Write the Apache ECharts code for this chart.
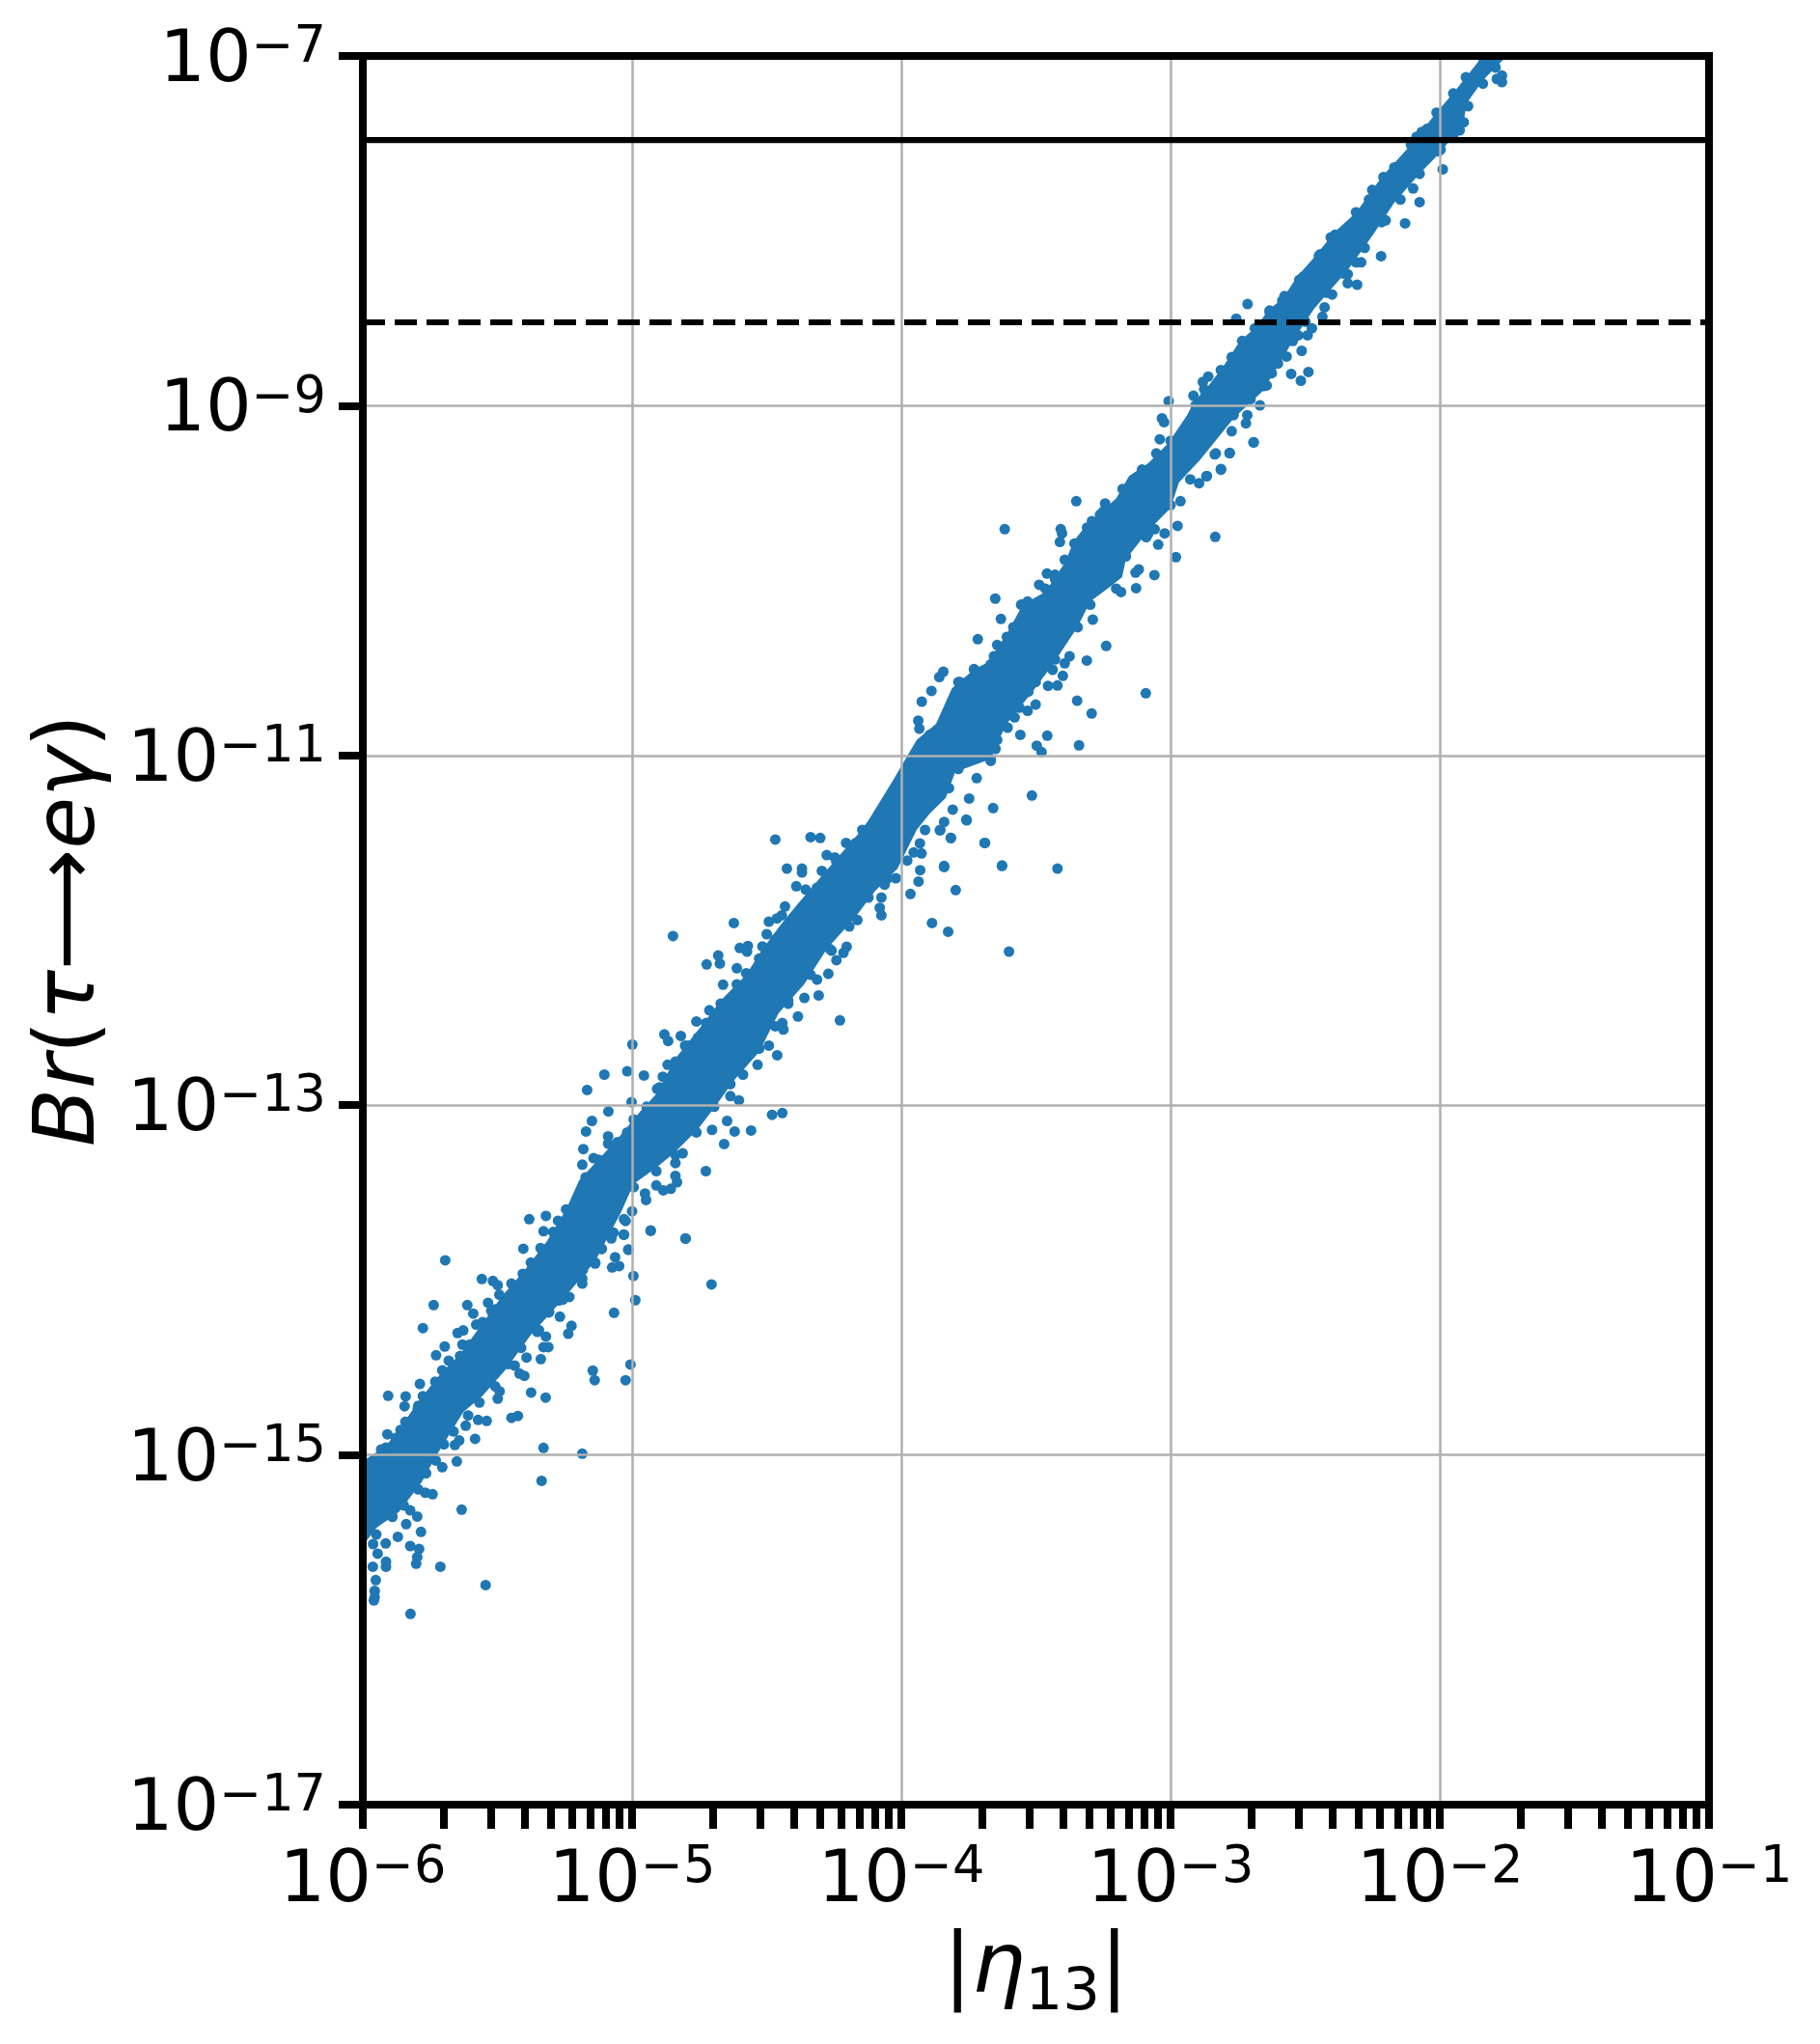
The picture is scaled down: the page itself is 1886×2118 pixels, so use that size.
<!DOCTYPE html>
<html><head><meta charset="utf-8">
<style>html,body{margin:0;padding:0;background:#fff}#c{width:1886px;height:2118px}</style>
<script src="https://cdn.jsdelivr.net/npm/echarts@6/dist/echarts.min.js"></script>
</head><body><div id="c"></div>
<script>
// All values are log10(|eta13|), log10(Br).
const xExponents=[-6,-5,-4,-3,-2,-1];
const yExponents=[-17,-15,-13,-11,-9,-7];
const xMinorMultipliers=[2,3,4,5,6,7,8,9];
const limitCurrent=3.3e-8;
const limitFuture=3e-9;
// Dense part of the cloud, where single points merge: its upper and lower outline.
const denseUpper=[[-6,-15.03],[-5.986,-15.022],[-5.914,-14.948],[-5.854,-14.829],[-5.788,-14.682],[-5.711,-14.535],[-5.639,-14.424],[-5.544,-14.222],[-5.484,-14.093],[-5.4,-13.946],[-5.317,-13.78],[-5.245,-13.596],[-5.197,-13.431],[-5.054,-13.192],[-4.97,-13.036],[-4.91,-12.935],[-4.839,-12.732],[-4.743,-12.548],[-4.671,-12.401],[-4.576,-12.254],[-4.516,-12.107],[-4.444,-11.96],[-4.385,-11.849],[-4.313,-11.72],[-4.241,-11.592],[-4.158,-11.445],[-4.122,-11.371],[-4.03,-11.14],[-3.943,-10.911],[-3.871,-10.819],[-3.812,-10.616],[-3.728,-10.506],[-3.68,-10.469],[-3.608,-10.304],[-3.549,-10.138],[-3.465,-10.064],[-3.393,-9.899],[-3.358,-9.77],[-3.31,-9.678],[-3.202,-9.531],[-3.154,-9.402],[-3.083,-9.329],[-3.011,-9.218],[-2.938,-9.053],[-2.914,-8.979],[-2.86,-8.888],[-2.805,-8.777],[-2.742,-8.63],[-2.687,-8.556],[-2.632,-8.446],[-2.585,-8.391],[-2.53,-8.262],[-2.467,-8.152],[-2.389,-8.005],[-2.31,-7.894],[-2.216,-7.692],[-2.107,-7.508],[-2.013,-7.324],[-1.95,-7.213],[-1.856,-7.03],[-1.84,-6.993]];
const denseLower=[[-6,-15.5],[-5.986,-15.491],[-5.95,-15.418],[-5.866,-15.326],[-5.783,-15.16],[-5.723,-14.994],[-5.627,-14.755],[-5.556,-14.663],[-5.472,-14.516],[-5.376,-14.314],[-5.257,-14.111],[-5.137,-13.891],[-5.042,-13.615],[-4.994,-13.45],[-4.91,-13.358],[-4.839,-13.266],[-4.755,-13.137],[-4.683,-12.99],[-4.623,-12.861],[-4.528,-12.695],[-4.456,-12.475],[-4.361,-12.309],[-4.277,-12.107],[-4.17,-11.923],[-4.098,-11.776],[-4.014,-11.647],[-3.943,-11.426],[-3.895,-11.334],[-3.835,-11.242],[-3.8,-11.095],[-3.668,-11.021],[-3.644,-10.929],[-3.608,-10.819],[-3.513,-10.635],[-3.441,-10.488],[-3.346,-10.267],[-3.298,-10.12],[-3.22,-10.03],[-3.18,-9.98],[-3.166,-9.88],[-3.083,-9.715],[-3,-9.586],[-2.969,-9.439],[-2.891,-9.311],[-2.765,-9.071],[-2.663,-8.924],[-2.624,-8.832],[-2.546,-8.63],[-2.467,-8.446],[-2.405,-8.336],[-2.342,-8.225],[-2.248,-8.023],[-2.169,-7.839],[-2.075,-7.673],[-2.005,-7.563],[-1.95,-7.46],[-1.915,-7.41],[-1.9,-7.27],[-1.84,-7.14],[-1.746,-6.993]];
// Individually readable points.
const pointsLow=[[-5.694,-13.887],[-5.382,-13.652],[-5.32,-13.633],[-5.329,-13.721],[-5.404,-13.821],[-5.558,-13.994],[-5.517,-14.005],[-5.499,-14.029],[-5.493,-14.084],[-5.737,-14.143],[-5.612,-14.143],[-5.59,-14.192],[-5.535,-14.13],[-5.523,-14.176],[-5.777,-14.275],[-5.648,-14.303],[-5.627,-14.288],[-5.579,-14.255],[-5.696,-14.38],[-5.728,-14.43],[-5.63,-14.369],[-5.788,-14.594],[-5.731,-14.581],[-5.906,-14.662],[-5.841,-14.665],[-5.845,-14.722],[-5.796,-14.737],[-5.909,-14.882],[-5.932,-14.969],[-5.86,-14.857],[-5.499,-14.678],[-5.492,-14.636],[-5.572,-14.8],[-5.54,-14.805],[-5.618,-14.833],[-5.583,-14.908],[-5.658,-14.943],[-5.642,-14.917],[-5.448,-14.788],[-5.424,-14.777],[-5.375,-14.643],[-5.321,-14.672],[-5.339,-14.452],[-5.329,-14.384],[-5.311,-14.384],[-5.268,-14.209],[-5.237,-14.307],[-5.225,-14.262],[-5.32,-14.323],[-5.346,-14.286],[-5.392,-14.443],[-5.436,-14.489],[-5.418,-14.535],[-5.4,-14.548],[-5.329,-14.96],[-5.185,-14.993],[-5.336,-15.148],[-5.146,-14.518],[-5.139,-14.573],[-5.024,-14.573],[-5.006,-14.483],[-5.067,-14.187],[-4.988,-14.115],[-4.995,-13.977],[-5.074,-13.928],[-5.048,-13.92],[-5.063,-13.869],[-5.014,-13.826],[-5.113,-13.821],[-5.031,-13.74],[-5.069,-13.729],[-4.931,-13.716],[-4.802,-13.762],[-4.705,-14.025],[-5.137,-13.906],[-5.185,-14.02],[-5.183,-13.942],[-5.233,-14.097],[-5.271,-14.117],[-5.308,-14.182],[-5.651,-15.037],[-5.705,-15.07],[-5.741,-15.225],[-5.768,-15.216],[-5.633,-15.313],[-5.798,-15.352],[-5.824,-15.317],[-5.839,-15.396],[-5.784,-15.44],[-5.87,-15.468],[-5.915,-15.506],[-5.824,-15.521],[-5.791,-15.538],[-5.798,-15.584],[-5.802,-15.622],[-5.914,-15.611],[-5.914,-15.639],[-5.963,-15.639],[-5.945,-15.565],[-5.962,-15.51],[-5.952,-15.716],[-5.956,-15.777],[-5.956,-15.814],[-5.959,-15.832],[-5.712,-15.639],[-5.544,-15.744],[-5.823,-15.909]];
const pointsMid=[[-4.468,-11.481],[-4.337,-11.467],[-4.301,-11.472],[-4.205,-11.5],[-4.425,-11.647],[-4.369,-11.647],[-4.369,-11.669],[-4.295,-11.66],[-4.39,-11.748],[-4.355,-11.767],[-4.277,-11.57],[-4.247,-11.583],[-4.432,-11.864],[-4.444,-11.914],[-4.492,-11.951],[-4.462,-11.932],[-4.622,-11.958],[-4.848,-12.033],[-4.5,-12.022],[-4.6,-12.101],[-4.57,-12.089],[-4.573,-12.122],[-4.516,-12.092],[-4.68,-12.144],[-4.723,-12.195],[-4.674,-12.19],[-4.611,-12.217],[-4.576,-12.245],[-4.662,-12.311],[-4.761,-12.521],[-4.713,-12.457],[-4.755,-12.613],[-4.88,-12.595],[-4.866,-12.633],[-4.819,-12.604],[-4.803,-12.659],[-4.999,-12.653],[-4.868,-12.769],[-4.886,-12.837],[-5.103,-12.825],[-5.018,-12.806],[-4.956,-12.83],[-4.907,-12.907],[-5.167,-12.913],[-5.002,-12.983],[-5.088,-13.036],[-5.149,-13.09],[-5.171,-13.15],[-5.018,-13.156],[-5.089,-13.178],[-5.089,-13.22],[-5.181,-13.251],[-5.143,-13.303],[-5.185,-13.34],[-4.48,-13.055],[-4.442,-13.045],[-4.558,-13.145],[-4.619,-13.15],[-4.647,-13.09],[-4.658,-13.222],[-4.703,-13.141],[-4.726,-13.377],[-4.839,-13.331],[-4.812,-13.275],[-4.839,-13.404],[-4.833,-13.441],[-4.856,-13.478],[-4.884,-13.487],[-4.91,-13.459],[-4.952,-13.505],[-4.948,-13.542],[-5,-13.607],[-5.024,-13.662],[-4.931,-13.719],[-4.801,-13.763],[-5.03,-13.741],[-5.014,-13.827],[-5.113,-13.822],[-4.635,-12.948],[-4.603,-12.972],[-4.461,-12.714],[-4.492,-12.659],[-4.534,-12.769],[-4.442,-12.53],[-4.438,-12.567],[-4.384,-12.493],[-4.42,-12.42],[-4.36,-12.387],[-4.307,-12.372],[-4.313,-12.282],[-4.271,-12.249],[-4.241,-12.171],[-4.203,-12.094],[-4.215,-12.129],[-4.259,-12.116],[-4.228,-12.515],[-4.074,-11.914],[-4.08,-11.871],[-4.163,-11.941],[-3.966,-11.792],[-3.936,-11.721],[-4.02,-11.702],[-4.062,-11.739],[-4.074,-11.813],[-3.93,-11.656],[-3.886,-11.958],[-3.826,-12.008],[-3.798,-11.77],[-3.841,-11.638],[-3.816,-11.472],[-3.855,-11.426],[-3.841,-11.38],[-3.757,-11.371],[-3.689,-11.5],[-3.626,-11.632],[-3.6,-12.122],[-3.978,-11.601]];
const pointsUpper=[[-2.691,-9.209],[-2.78,-9.27],[-2.813,-9.362],[-2.865,-9.402],[-2.894,-9.443],[-2.963,-9.546],[-2.974,-9.687],[-3.022,-9.73],[-2.834,-9.75],[-3.046,-9.794],[-2.98,-9.866],[-3.059,-9.706],[-3.09,-9.752],[-3.35,-9.546],[-3.616,-9.706],[-3.408,-9.706],[-3.403,-9.73],[-3.411,-9.779],[-3.243,-9.559],[-3.262,-9.623],[-3.292,-9.66],[-3.459,-9.96],[-3.429,-9.967],[-3.488,-10.024],[-3.13,-9.954],[-3.118,-9.936],[-3.06,-9.969],[-3.128,-10.043],[-3.184,-10.065],[-3.651,-10.103],[-3.63,-10.219],[-3.289,-10.223],[-3.239,-10.374],[-3.311,-10.457],[-3.716,-10.335],[-3.644,-10.368],[-3.375,-10.433],[-3.393,-10.473],[-3.531,-10.12],[-3.555,-10.138],[-3.73,-10.506],[-3.668,-10.479],[-3.844,-10.521],[-3.859,-10.552],[-3.888,-10.631],[-3.924,-10.692],[-3.782,-10.58],[-3.438,-10.51],[-3.4,-10.545],[-3.455,-10.602],[-3.42,-10.6],[-3.092,-10.644],[-3.347,-10.687],[-3.293,-10.76],[-3.501,-10.709],[-3.528,-10.635],[-3.531,-10.745],[-3.579,-10.782],[-3.605,-10.841],[-3.558,-10.882],[-3.458,-10.887],[-3.497,-10.944],[-3.479,-10.981],[-3.34,-10.942],[-3.65,-10.963],[-3.668,-11.031],[-3.72,-11.13],[-3.748,-11.246],[-3.515,-11.229],[-3.659,-11.301],[-3.759,-11.367],[-3.809,-11.31],[-3.857,-11.428],[-3.816,-11.472],[-3.691,-11.5],[-3.931,-11.503],[-3.925,-11.56],[-3.841,-11.632],[-3.626,-11.629],[-3.42,-11.647],[-3.937,-10.801],[-3.933,-10.847],[-3.895,-10.883]];
const pointsTop=[[-1.769,-7.112],[-1.788,-7.131],[-1.769,-7.149],[-1.989,-7.648],[-2.075,-7.836],[-2.129,-7.957],[-2.218,-8.145],[-2.099,-7.758],[-2.251,-7.766],[-2.405,-8.038],[-2.449,-8.143],[-2.201,-7.94],[-2.311,-8.18],[-2.292,-8.18],[-2.522,-8.281],[-2.342,-8.248],[-2.307,-8.308],[-2.342,-8.299],[-2.4,-8.364],[-2.428,-8.437],[-2.585,-8.4],[-2.632,-8.465],[-2.714,-8.419],[-2.756,-8.502],[-2.436,-8.492],[-2.475,-8.557],[-2.491,-8.597],[-2.526,-8.597],[-2.513,-8.686],[-2.569,-8.719],[-2.601,-8.759],[-2.552,-8.818],[-2.488,-8.807],[-2.516,-8.857],[-2.624,-8.814],[-2.643,-8.884],[-2.86,-8.833],[-2.88,-8.864],[-2.915,-8.943],[-3.007,-8.974],[-2.668,-8.998],[-2.715,-9.054],[-2.72,-9.101],[-2.692,-9.21],[-2.773,-9.146],[-2.781,-9.271],[-2.836,-9.278],[-2.813,-9.366],[-2.867,-9.403],[-3.032,-9.072],[-3.024,-9.094],[-3.04,-9.192],[-1.997,-7.536],[-1.926,-7.425],[-1.911,-7.379],[-2.047,-7.416],[-2.086,-7.462]];
// Points on the rim of the dense part.
const rimAbove=[[-5.914,-14.958],[-5.878,-14.903],[-5.842,-14.811],[-5.794,-14.719],[-5.777,-14.664],[-5.705,-14.516],[-5.681,-14.461],[-5.639,-14.434],[-5.603,-14.369],[-5.555,-14.24],[-5.508,-14.167],[-5.448,-14.02],[-5.406,-13.964],[-5.376,-13.9],[-5.34,-13.817],[-5.293,-13.725],[-5.275,-13.661],[-5.245,-13.596],[-5.173,-13.413],[-5.125,-13.312],[-5.054,-13.211],[-4.994,-13.082],[-4.946,-13.009],[-4.898,-12.898],[-4.839,-12.751],[-4.791,-12.659],[-4.725,-12.53],[-4.671,-12.42],[-4.611,-12.309],[-4.528,-12.162],[-4.468,-12.052],[-4.42,-11.978],[-4.36,-11.859],[-4.313,-11.757],[-4.241,-11.61],[-4.169,-11.5],[-4.145,-11.426],[-3.871,-10.874],[-3.812,-10.69],[-3.788,-10.58],[-3.728,-10.515],[-3.656,-10.433],[-3.608,-10.322],[-3.584,-10.267],[-3.549,-10.138],[-3.465,-10.046],[-3.429,-9.991],[-3.393,-9.881],[-3.357,-9.789],[-3.31,-9.697],[-3.25,-9.605],[-3.178,-9.476],[-3.106,-9.365],[-3.053,-9.273],[-3,-9.2],[-2.907,-8.998],[-2.875,-8.906],[-2.813,-8.796],[-2.773,-8.722],[-2.734,-8.63],[-2.687,-8.557],[-2.632,-8.456],[-2.577,-8.373],[-2.507,-8.262],[-2.444,-8.134],[-2.389,-8.023],[-2.311,-7.894],[-2.263,-7.821],[-2.209,-7.692],[-2.169,-7.637],[-2.107,-7.508],[-2.067,-7.434],[-2.012,-7.324],[-1.95,-7.214],[-1.903,-7.122],[-1.84,-7.011]];
const rimBelow=[[-5.95,-15.455],[-5.89,-15.354],[-5.848,-15.289],[-5.794,-15.197],[-5.765,-15.105],[-5.729,-15.032],[-5.699,-14.94],[-5.663,-14.866],[-5.609,-14.774],[-5.567,-14.7],[-5.508,-14.608],[-5.46,-14.48],[-5.412,-14.388],[-5.352,-14.296],[-5.31,-14.185],[-5.257,-14.112],[-5.185,-13.992],[-5.137,-13.9],[-5.077,-13.762],[-5.03,-13.652],[-4.994,-13.469],[-4.91,-13.377],[-4.839,-13.285],[-4.761,-13.156],[-4.695,-13.009],[-4.635,-12.88],[-4.588,-12.825],[-4.528,-12.677],[-4.468,-12.549],[-4.42,-12.401],[-4.337,-12.254],[-4.265,-12.107],[-4.193,-11.978],[-4.122,-11.813],[-4.05,-11.702],[-3.954,-11.555],[-3.912,-11.426],[-3.823,-11.187],[-3.788,-11.077],[-3.668,-11.021],[-3.644,-10.911],[-3.561,-10.727],[-3.501,-10.58],[-3.429,-10.451],[-3.345,-10.267],[-3.298,-10.138],[-3.202,-10.046],[-3.166,-9.862],[-3.083,-9.733],[-3,-9.568],[-2.927,-9.421],[-2.832,-9.273],[-2.766,-9.054],[-2.703,-8.962],[-2.656,-8.888],[-2.609,-8.759],[-2.546,-8.63],[-2.499,-8.52],[-2.42,-8.354],[-2.358,-8.244],[-2.279,-8.097],[-2.216,-7.95],[-2.146,-7.821],[-2.075,-7.674],[-2.005,-7.545],[-1.95,-7.453],[-1.895,-7.287],[-1.84,-7.158],[-1.793,-7.066],[-1.754,-6.993]];

const toValue=p=>[Math.pow(10,p[0]),Math.pow(10,p[1])];
const dec=e=>Math.pow(10,e);
const xMajor=xExponents.map(dec);
const yMajor=yExponents.map(dec);
const xMinor=[];
xExponents.slice(0,-1).forEach(e=>xMinorMultipliers.forEach(m=>xMinor.push(m*dec(e))));
const expLabel=v=>{const e=Math.round(Math.log10(v));return '{b|10}{s|−'+Math.abs(e)+'}';};
const font='"DejaVu Sans"';
const labelRich={
  b:{fontFamily:font,fontSize:75,lineHeight:88,color:'#000',verticalAlign:'bottom'},
  s:{fontFamily:font,fontSize:52.5,lineHeight:53,padding:[0,0,25,0],color:'#000',verticalAlign:'bottom'}
};
const blue='#1f77b4';
const scatter=(name,pts)=>({type:'scatter',name,symbolSize:11,clip:true,z:2,itemStyle:{color:blue,opacity:1},data:pts.map(toValue)});
const chart=echarts.init(document.getElementById('c'),null,{renderer:'canvas'});
const lineData=(v)=>[[dec(-6),v],[dec(-1),v]];
chart.setOption({
  animation:false,
  backgroundColor:'#fff',
  grid:{left:376,right:115,top:58,height:1812,outerBoundsMode:'none',show:true,borderWidth:8,borderColor:'#000',backgroundColor:'transparent',z:20},
  xAxis:[
    {type:'log',logBase:10,min:1e-6,max:1e-1,position:'bottom',z:5,
     name:'{n||}{m|η}{u|13}{n||}',nameLocation:'middle',nameGap:137,
     nameTextStyle:{rich:{
       n:{fontFamily:font,fontSize:87.5,lineHeight:90,padding:[0,0,12,0],verticalAlign:'bottom',color:'#000'},
       m:{fontFamily:font,fontStyle:'italic',fontSize:87.5,lineHeight:90,padding:[0,0,12,0],verticalAlign:'bottom',color:'#000'},
       u:{fontFamily:font,fontSize:61,lineHeight:61,verticalAlign:'bottom',color:'#000'}}},
     axisLine:{show:false},
     axisTick:{show:true,inside:false,length:25,lineStyle:{width:8,color:'#000'},customValues:xMajor},
     axisLabel:{show:true,margin:30,formatter:expLabel,rich:labelRich,customValues:xMajor},
     splitLine:{show:true,lineStyle:{color:'#b0b0b0',width:2.5}}},
    {type:'log',logBase:10,min:1e-6,max:1e-1,position:'bottom',z:5,
     axisLine:{show:false},
     axisTick:{show:true,length:25,lineStyle:{width:8,color:'#000'},customValues:xMinor},
     axisLabel:{show:false},splitLine:{show:false}}
  ],
  yAxis:[
    {type:'log',logBase:10,min:1e-17,max:1e-7,position:'left',z:5,
     name:'{i|Br}{n|(}{i|τ}{n|⟶}{i|eγ}{n|)}',nameLocation:'middle',nameGap:258,nameRotate:90,
     nameTextStyle:{rich:{
       n:{fontFamily:font,fontSize:87.5,color:'#000'},
       i:{fontFamily:font,fontStyle:'italic',fontSize:87.5,color:'#000'}}},
     axisLine:{show:false},
     axisTick:{show:true,length:25,lineStyle:{width:8,color:'#000'},customValues:yMajor},
     axisLabel:{show:true,margin:38,formatter:expLabel,rich:labelRich,customValues:yMajor},
     splitLine:{show:true,lineStyle:{color:'#b0b0b0',width:2.5}}}
  ],
  series:[
    {type:'custom',coordinateSystem:'cartesian2d',clip:true,z:2,silent:true,
     data:[toValue(denseUpper[0])],encode:{x:0,y:1},
     renderItem:(params,api)=>{
       const pts=denseUpper.concat(denseLower.slice().reverse()).map(p=>api.coord(toValue(p)));
       return {type:'polygon',shape:{points:pts},style:{fill:blue}};
     }},
    scatter('low',pointsLow),scatter('mid',pointsMid),scatter('upper',pointsUpper),scatter('top',pointsTop),
    scatter('rimAbove',rimAbove),scatter('rimBelow',rimBelow),
    {type:'line',z:10,showSymbol:false,silent:true,lineStyle:{color:'#000',width:6.25},data:lineData(limitCurrent)},
    {type:'line',z:10,showSymbol:false,silent:true,lineStyle:{color:'#000',width:6,type:[23,10]},data:lineData(limitFuture)}
  ]
});
</script></body></html>
